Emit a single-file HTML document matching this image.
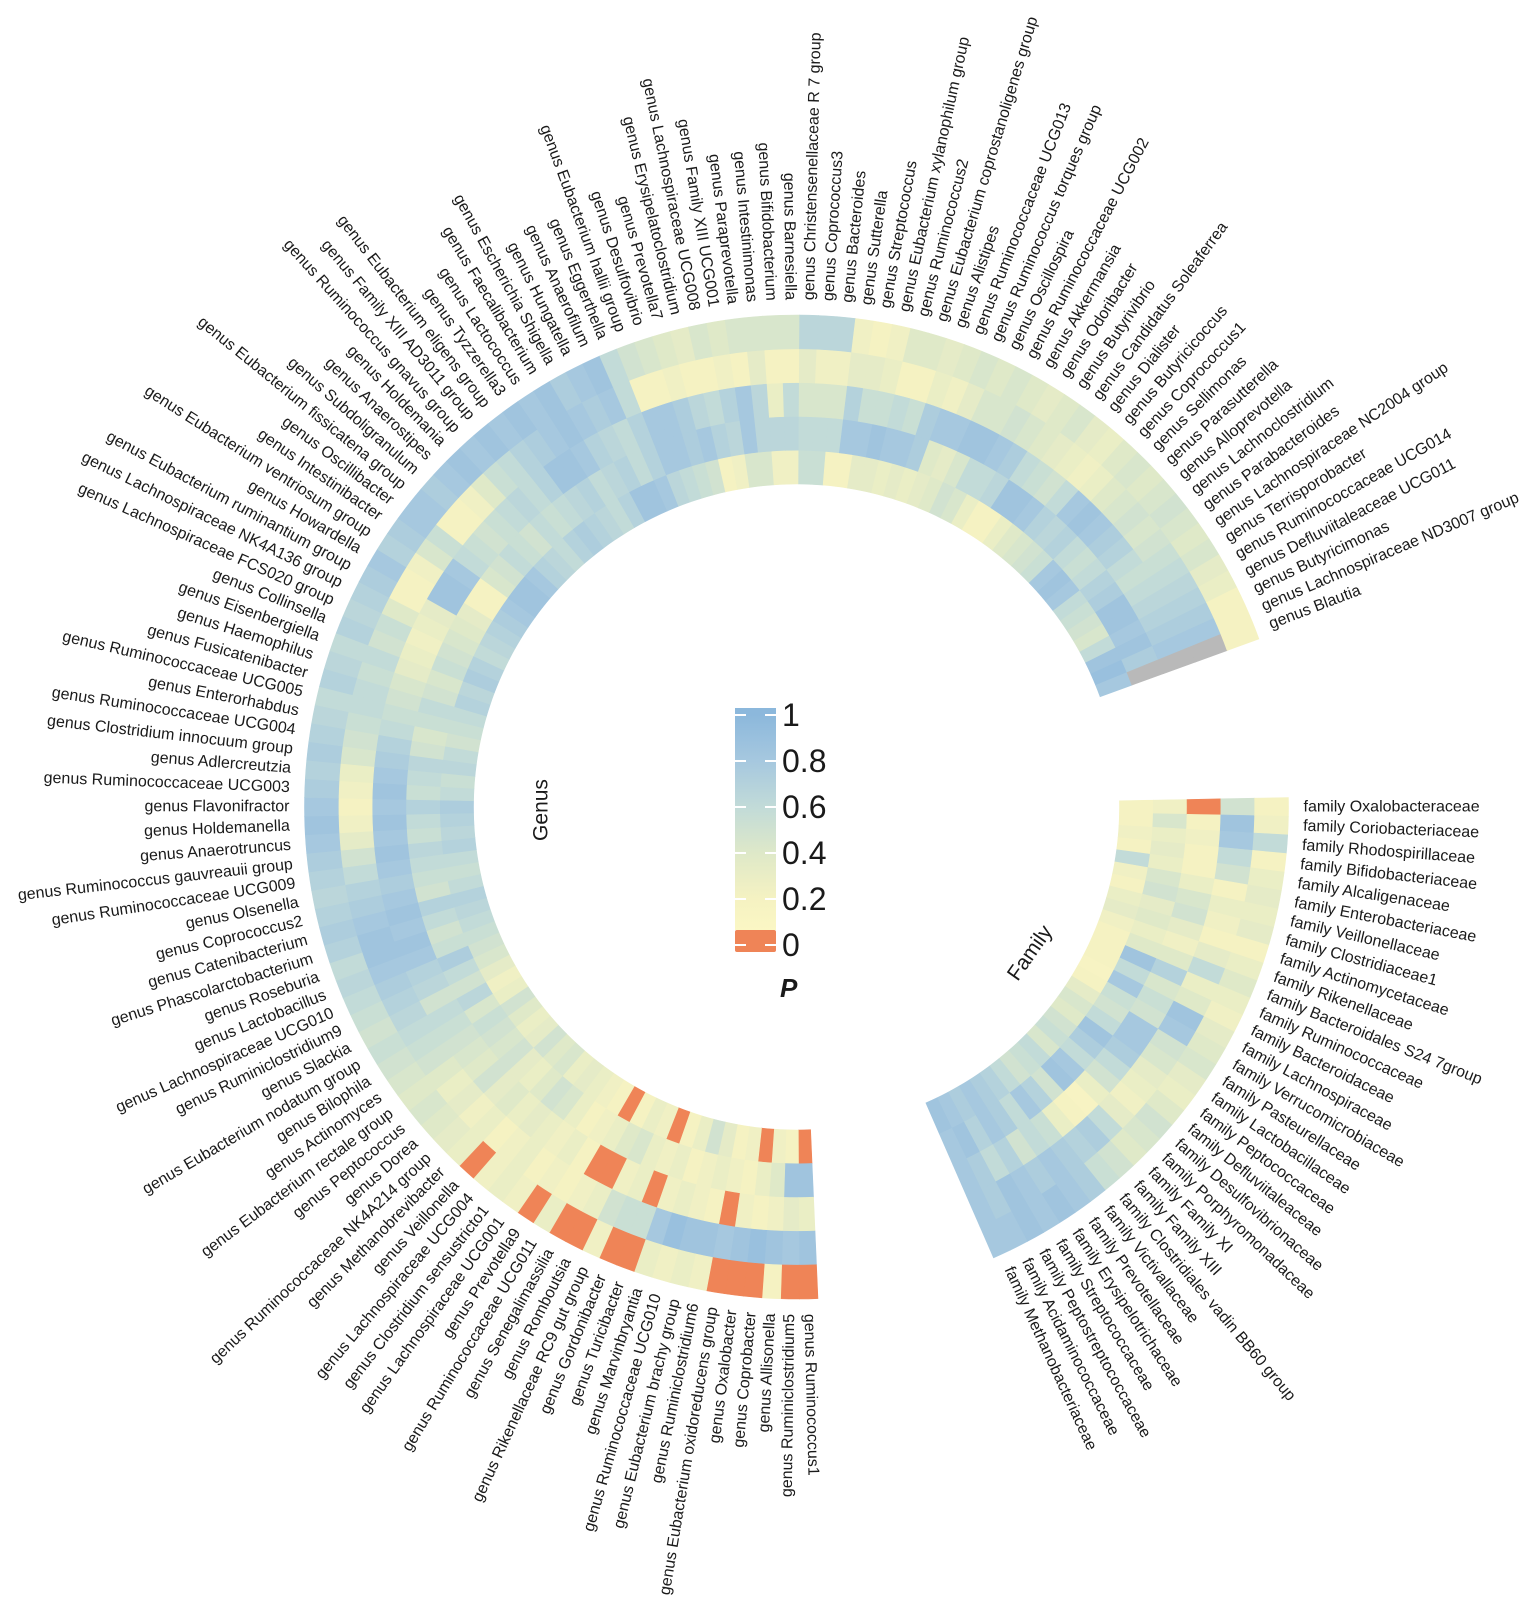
<!DOCTYPE html>
<html><head><meta charset="utf-8"><style>
html,body{margin:0;padding:0;background:#fff;}
svg{display:block;}
text{font-family:"Liberation Sans",Arial,sans-serif;fill:#1a1a1a;}
</style></head><body>
<svg id="chart" width="1535" height="1615" viewBox="0 0 1535 1615" xmlns="http://www.w3.org/2000/svg">
<defs>
<linearGradient id="lg" x1="0" y1="0" x2="0" y2="1">
<stop offset="0" stop-color="#8cb8dc"/><stop offset="0.03" stop-color="#8cb8dc"/>
<stop offset="0.24" stop-color="#a6c8df"/><stop offset="0.45" stop-color="#c2dbd8"/>
<stop offset="0.66" stop-color="#dfe9c8"/><stop offset="0.86" stop-color="#f5f2c2"/>
<stop offset="1" stop-color="#fbf7c4"/>
</linearGradient>
</defs>
<g id="cells"></g>
<g id="labels"></g>
<g>
<rect x="735" y="708" width="41" height="222" fill="url(#lg)"/>
<rect x="735" y="930" width="41" height="22" rx="2" fill="#ef8457"/>
<g id="legendTicks"></g>
<text x="780" y="997" font-size="26" font-weight="bold" font-style="italic">P</text>
</g>
<text x="541" y="810" font-size="21" text-anchor="middle" dominant-baseline="central" transform="rotate(-90 541 810)">Genus</text>
<text x="1030" y="953" font-size="21" text-anchor="middle" dominant-baseline="central" transform="rotate(-55 1030 953)">Family</text>
</svg>
<script>
const genusNames=["Ruminococcus1","Ruminiclostridium5","Allisonella","Coprobacter","Oxalobacter","Eubacterium oxidoreducens group","Ruminiclostridium6","Eubacterium brachy group","Ruminococcaceae UCG010","Marvinbryantia","Turicibacter","Gordonibacter","Rikenellaceae RC9 gut group","Romboutsia","Senegalimassilia","Ruminococcaceae UCG011","Prevotella9","Lachnospiraceae UCG001","Clostridium sensustricto1","Lachnospiraceae UCG004","Veillonella","Methanobrevibacter","Ruminococcaceae NK4A214 group","Dorea","Peptococcus","Eubacterium rectale group","Actinomyces","Bilophila","Eubacterium nodatum group","Slackia","Ruminiclostridium9","Lachnospiraceae UCG010","Lactobacillus","Roseburia","Phascolarctobacterium","Catenibacterium","Coprococcus2","Olsenella","Ruminococcaceae UCG009","Ruminococcus gauvreauii group","Anaerotruncus","Holdemanella","Flavonifractor","Ruminococcaceae UCG003","Adlercreutzia","Clostridium innocuum group","Ruminococcaceae UCG004","Enterorhabdus","Ruminococcaceae UCG005","Fusicatenibacter","Haemophilus","Eisenbergiella","Collinsella","Lachnospiraceae FCS020 group","Lachnospiraceae NK4A136 group","Eubacterium ruminantium group","Howardella","Eubacterium ventriosum group","Intestinibacter","Oscillibacter","Eubacterium fissicatena group","Subdoligranulum","Anaerostipes","Holdemania","Ruminococcus gnavus group","Family XIII AD3011 group","Eubacterium eligens group","Tyzzerella3","Lactococcus","Faecalibacterium","Escherichia Shigella","Hungatella","Anaerofilum","Eggerthella","Eubacterium hallii group","Desulfovibrio","Prevotella7","Erysipelatoclostridium","Lachnospiraceae UCG008","Family XIII UCG001","Paraprevotella","Intestinimonas","Bifidobacterium","Barnesiella","Christensenellaceae R 7 group","Coprococcus3","Bacteroides","Sutterella","Streptococcus","Eubacterium xylanophilum group","Ruminococcus2","Eubacterium coprostanoligenes group","Alistipes","Ruminococcaceae UCG013","Ruminococcus torques group","Oscillospira","Ruminococcaceae UCG002","Akkermansia","Odoribacter","Butyrivibrio","Candidatus Soleaferrea","Dialister","Butyricicoccus","Coprococcus1","Sellimonas","Parasutterella","Alloprevotella","Lachnoclostridium","Parabacteroides","Lachnospiraceae NC2004 group","Terrisporobacter","Ruminococcaceae UCG014","Defluviitaleaceae UCG011","Butyricimonas","Lachnospiraceae ND3007 group","Blautia"];
const familyNames=["Oxalobacteraceae","Coriobacteriaceae","Rhodospirillaceae","Bifidobacteriaceae","Alcaligenaceae","Enterobacteriaceae","Veillonellaceae","Clostridiaceae1","Actinomycetaceae","Rikenellaceae","Bacteroidales S24 7group","Ruminococcaceae","Bacteroidaceae","Lachnospiraceae","Verrucomicrobiaceae","Pasteurellaceae","Lactobacillaceae","Peptococcaceae","Defluviitaleaceae","Desulfovibrionaceae","Porphyromonadaceae","Family XI","Family XIII","Clostridiales vadin BB60 group","Victivallaceae","Prevotellaceae","Erysipelotrichaceae","Streptococcaceae","Peptostreptococcaceae","Acidaminococcaceae","Methanobacteriaceae"];
// genus rings, r0 = innermost
const genusR0=[0,0.2,0.25,0,0.25,0.2,0.35,0.5,0.3,0.2,0,0.25,0.3,0.2,0,0.2,0.25,0.3,0.35,0.3,0.45,0.4,0.5,0.35,0.3,0.4,0.5,0.3,0.25,0.35,0.45,0.5,0.55,0.6,0.65,0.7,0.6,0.55,0.6,0.7,0.65,0.7,0.75,0.6,0.55,0.65,0.6,0.5,0.55,0.6,0.7,0.65,0.75,0.7,0.6,0.65,0.7,0.75,0.8,0.85,0.85,0.8,0.7,0.65,0.6,0.7,0.75,0.7,0.65,0.6,0.7,0.85,0.85,0.8,0.65,0.6,0.55,0.5,0.2,0.25,0.45,0.45,0.25,0.25,0.55,0.55,0.2,0.2,0.35,0.35,0.3,0.35,0.3,0.35,0.4,0.5,0.45,0.3,0.2,0.2,0.3,0.4,0.45,0.5,0.55,0.8,0.85,0.8,0.6,0.55,0.5,0.45,0.6,0.85,0.9,0.8];
const genusR1=[0.85,0.85,0.4,0.3,0.2,0.25,0.3,0.25,0.2,0.3,0.25,0.3,0.45,0.4,0.3,0.25,0.2,0.3,0.45,0.5,0.4,0.3,0.35,0.5,0.45,0.5,0.55,0.45,0.65,0.5,0.6,0.75,0.55,0.5,0.6,0.7,0.5,0.55,0.6,0.65,0.55,0.6,0.7,0.55,0.6,0.65,0.5,0.45,0.55,0.6,0.5,0.45,0.55,0.5,0.45,0.4,0.35,0.2,0.2,0.45,0.5,0.6,0.55,0.5,0.6,0.55,0.6,0.65,0.7,0.6,0.65,0.7,0.6,0.7,0.8,0.8,0.75,0.8,0.7,0.65,0.8,0.65,0.65,0.65,0.6,0.6,0.6,0.8,0.8,0.85,0.8,0.8,0.75,0.4,0.35,0.45,0.6,0.6,0.65,0.85,0.85,0.8,0.7,0.65,0.7,0.6,0.55,0.6,0.7,0.75,0.85,0.85,0.8,0.85,0.75,null];
const genusR2=[0.3,0.35,0.25,0.2,0.25,0,0.2,0.25,0.3,0.25,0,0.3,0.25,0,0,0.2,0.3,0.25,0.3,0.35,0.3,0.4,0.35,0.5,0.4,0.45,0.5,0.55,0.6,0.5,0.65,0.7,0.8,0.85,0.8,0.85,0.8,0.75,0.8,0.85,0.8,0.85,0.8,0.85,0.8,0.75,0.7,0.6,0.55,0.5,0.45,0.35,0.3,0.25,0.3,0.35,0.85,0.85,0.8,0.6,0.55,0.5,0.55,0.6,0.65,0.6,0.7,0.85,0.85,0.8,0.7,0.65,0.6,0.7,0.8,0.8,0.75,0.65,0.6,0.7,0.8,0.65,0.3,0.6,0.45,0.45,0.45,0.7,0.55,0.55,0.6,0.55,0.75,0.8,0.8,0.85,0.85,0.8,0.75,0.6,0.55,0.5,0.6,0.8,0.85,0.8,0.75,0.7,0.6,0.55,0.6,0.65,0.7,0.75,0.8,null];
const genusR3=[0.85,0.8,0.85,0.9,0.85,0.8,0.85,0.85,0.9,0.8,0.55,0.55,0.5,0.3,0.25,0.2,0.25,0.2,0.3,0.25,0.2,0.3,0.25,0.35,0.3,0.4,0.5,0.55,0.6,0.65,0.7,0.75,0.8,0.85,0.85,0.8,0.75,0.7,0.6,0.5,0.35,0.25,0.2,0.25,0.3,0.45,0.5,0.55,0.6,0.6,0.55,0.6,0.5,0.55,0.4,0.2,0.2,0.25,0.45,0.55,0.2,0.2,0.25,0.4,0.55,0.6,0.7,0.75,0.8,0.85,0.8,0.75,0.8,0.6,0.2,0.2,0.25,0.2,0.2,0.25,0.2,0.35,0.2,0.2,0.35,0.25,0.25,0.35,0.35,0.3,0.2,0.2,0.3,0.25,0.35,0.45,0.45,0.5,0.45,0.4,0.35,0.3,0.25,0.3,0.4,0.45,0.5,0.45,0.5,0.55,0.6,0.65,0.7,0.75,0.8,null];
const genusR4=[0,0,0.2,0,0,0,0.25,0.3,0.25,0.3,0,0,0.25,0,0,0.3,0,0.25,0.3,0.25,0,0.3,0.35,0.4,0.45,0.4,0.45,0.5,0.55,0.5,0.55,0.6,0.65,0.6,0.7,0.75,0.7,0.65,0.7,0.75,0.8,0.85,0.8,0.75,0.7,0.75,0.7,0.65,0.6,0.7,0.65,0.6,0.7,0.65,0.7,0.75,0.8,0.7,0.75,0.8,0.8,0.75,0.8,0.85,0.8,0.85,0.8,0.85,0.8,0.85,0.75,0.8,0.85,0.6,0.5,0.45,0.4,0.35,0.45,0.4,0.45,0.45,0.45,0.45,0.65,0.65,0.65,0.25,0.2,0.25,0.4,0.4,0.35,0.4,0.45,0.4,0.45,0.4,0.35,0.4,0.45,0.35,0.3,0.4,0.45,0.4,0.45,0.5,0.45,0.4,0.45,0.35,0.3,0.2,0.2,0.2];
const familyR0=[0.2,0.2,0.25,0.2,0.6,0.25,0.2,0.3,0.35,0.25,0.2,0.2,0.2,0.15,0.2,0.35,0.45,0.4,0.5,0.55,0.45,0.6,0.55,0.5,0.6,0.7,0.75,0.8,0.75,0.8,0.85];
const familyR1=[0.25,0.45,0.3,0.35,0.3,0.45,0.5,0.35,0.4,0.3,0.4,0.85,0.6,0.8,0.55,0.5,0.6,0.85,0.75,0.6,0.8,0.85,0.5,0.7,0.8,0.6,0.75,0.8,0.7,0.85,0.8];
const familyR2=[0,0.2,0.25,0.2,0.2,0.3,0.45,0.5,0.35,0.25,0.4,0.7,0.45,0.55,0.5,0.8,0.8,0.75,0.6,0.5,0.3,0.15,0.2,0.3,0.55,0.6,0.5,0.7,0.6,0.75,0.8];
const familyR3=[0.5,0.85,0.8,0.6,0.5,0.2,0.3,0.25,0.2,0.35,0.6,0.3,0.4,0.85,0.8,0.5,0.45,0.35,0.3,0.25,0.35,0.6,0.75,0.7,0.75,0.8,0.75,0.8,0.85,0.75,0.8];
const familyR4=[0.2,0.25,0.6,0.2,0.3,0.35,0.3,0.35,0.2,0.3,0.4,0.3,0.25,0.35,0.4,0.45,0.35,0.3,0.4,0.5,0.45,0.4,0.5,0.55,0.75,0.8,0.85,0.8,0.85,0.8,0.8];
const legendTicks=[1,0.8,0.6,0.4,0.2,0];

const CX=796.5, CY=807, RIN=323, ROUT=492, STEP=2.177;
const GEN_START=177.5, FAM_START=88.9, LABEL_R=507;
const ringW=(ROUT-RIN)/5;
const NS="http://www.w3.org/2000/svg";
const stops=[[0,[251,247,196]],[0.2,[245,242,194]],[0.4,[223,233,200]],[0.6,[194,219,216]],[0.8,[166,200,223]],[1,[140,184,220]]];
function color(v){
  if(v===null) return "#b9b9b9";
  if(v<0.03) return "#ef8457";
  for(let i=1;i<stops.length;i++){
    if(v<=stops[i][0]){
      const a=stops[i-1],b=stops[i],t=(v-a[0])/(b[0]-a[0]);
      const c=a[1].map((x,k)=>Math.round(x+(b[1][k]-x)*t));
      return "rgb("+c.join(",")+")";
    }
  }
  return "rgb(140,184,220)";
}
function pt(r,a){const t=a*Math.PI/180;return [CX+r*Math.sin(t),CY-r*Math.cos(t)];}
function sector(r1,r2,a1,a2){
  const p1=pt(r2,a1),p2=pt(r2,a2),p3=pt(r1,a2),p4=pt(r1,a1);
  return "M"+p1[0].toFixed(2)+","+p1[1].toFixed(2)+"A"+r2+","+r2+" 0 0 1 "+p2[0].toFixed(2)+","+p2[1].toFixed(2)+"L"+p3[0].toFixed(2)+","+p3[1].toFixed(2)+"A"+r1+","+r1+" 0 0 0 "+p4[0].toFixed(2)+","+p4[1].toFixed(2)+"Z";
}
const cellsG=document.getElementById("cells");
const labelsG=document.getElementById("labels");
function drawSection(rings,names,start,prefix){
  rings.forEach((vals,ri)=>{
    vals.forEach((v,i)=>{
      const a1=start+i*STEP,a2=a1+STEP;
      const p=document.createElementNS(NS,"path");
      p.setAttribute("d",sector(RIN+ri*ringW,RIN+(ri+1)*ringW,a1,a2));
      const c=color(v);
      p.setAttribute("fill",c);p.setAttribute("stroke",c);p.setAttribute("stroke-width","0.6");
      
      
      cellsG.appendChild(p);
    });
  });
  names.forEach((n,i)=>{
    const a=start+(i+0.5)*STEP;
    const na=((a%360)+360)%360;
    const t=document.createElementNS(NS,"text");
    t.setAttribute("font-size","16");
    t.setAttribute("dominant-baseline","central");
    if(na<180){
      t.setAttribute("x",CX+LABEL_R);t.setAttribute("y",CY);
      t.setAttribute("text-anchor","start");
      t.setAttribute("transform","rotate("+(a-90).toFixed(3)+" "+CX+" "+CY+")");
    }else{
      t.setAttribute("x",CX-LABEL_R);t.setAttribute("y",CY);
      t.setAttribute("text-anchor","end");
      t.setAttribute("transform","rotate("+(a+90).toFixed(3)+" "+CX+" "+CY+")");
    }
    t.textContent=prefix+" "+n;
    
    
    labelsG.appendChild(t);
  });
}
drawSection([genusR0,genusR1,genusR2,genusR3,genusR4],genusNames,GEN_START,"genus");
drawSection([familyR0,familyR1,familyR2,familyR3,familyR4],familyNames,FAM_START,"family");
const lt=document.getElementById("legendTicks");
legendTicks.forEach(v=>{
  const y=945-v*230;
  [[735,746],[765,776]].forEach(s=>{
    const l=document.createElementNS(NS,"line");
    l.setAttribute("x1",s[0]);l.setAttribute("x2",s[1]);l.setAttribute("y1",y);l.setAttribute("y2",y);
    l.setAttribute("stroke","#fff");l.setAttribute("stroke-width","2");
    
    
    lt.appendChild(l);
  });
  const t=document.createElementNS(NS,"text");
  t.setAttribute("x",782);t.setAttribute("y",y);t.setAttribute("font-size","32");
  t.setAttribute("dominant-baseline","central");
  t.textContent=String(v);
  
  
  lt.appendChild(t);
});
</script>
</body></html>
